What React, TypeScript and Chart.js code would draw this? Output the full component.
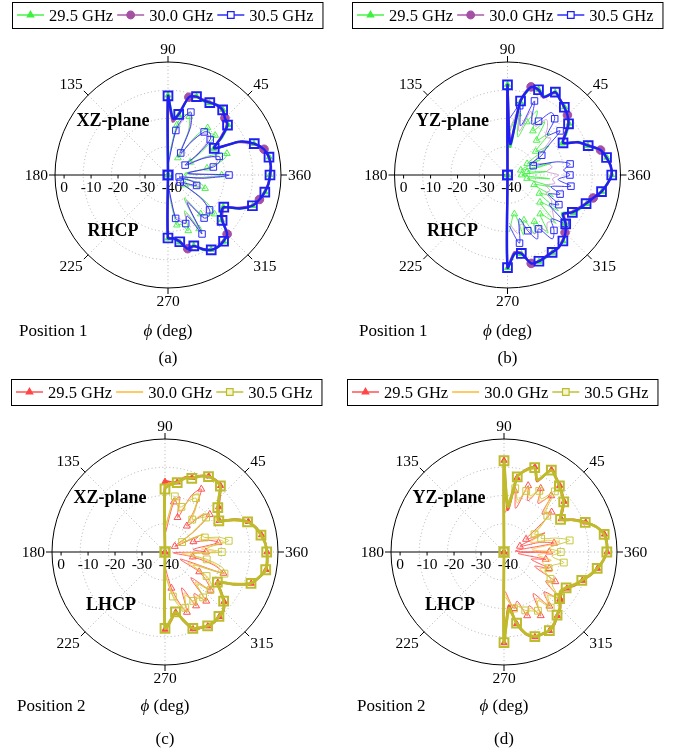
import React, { useEffect, useRef } from 'react';
import { Chart, registerables } from 'chart.js';

Chart.register(...registerables);

// ---------- axis / tick data ----------
const ANGLE_TICKS = [0, 45, 90, 135, 180, 225, 270, 315];
const ANGLE_TICK_LABELS = ['360', '45', '90', '135', '180', '225', '270', '315'];
const RADIAL_TICKS = [0, -10, -20, -30, -40];
const FREQ_LABELS = ['29.5 GHz', '30.0 GHz', '30.5 GHz'];

// angles (deg) of the envelope traces: centre -> 90 -> ... -> -90 -> centre
const MAIN_ANG = [90, 90, 85, 80, 75, 70, 65, 60, 55, 50, 45, 40, 35, 30, 25, 20, 15, 10, 5, 0,
  -5, -10, -15, -20, -25, -30, -35, -40, -45, -50, -55, -60, -65, -70, -75, -80, -85, -90, -90];
// angles (deg) of the inner (thin) traces
const THIN_ANG = [88, 80, 75, 70, 65, 60, 55, 50, 45, 40, 35, 30, 25, 20, 15, 10, 5, 0,
  -5, -10, -15, -20, -25, -30, -35, -40, -45, -50, -55, -60, -65, -70, -75, -80, -88];

// ---------- (a) XZ-plane RHCP, Position 1 ----------
const A_MAIN_295 = [-40, -11.8, -19.5, -18.4, -11.7, -10.4, -11, -10.6, -9.7, -9.8, -11.3, -12.3, -16.5, -21.3, -12.2, -7.6, -4.9, -3.6, -3.5, -4.0,
  -4.2, -5.1, -6.6, -8.1, -11.8, -17.4, -17.2, -15.2, -10.5, -9.3, -8.9, -9.5, -10.8, -13.4, -13.1, -15.8, -17.3, -17.6, -40];
const A_MAIN_300 = [-40, -12.2, -21, -18, -11.5, -10.6, -10.5, -10.2, -9.9, -10.1, -11.5, -12.8, -17.5, -21, -12.5, -7.8, -4.8, -3.8, -3.4, -3.8,
  -4.4, -5.3, -6.5, -8.4, -12.5, -17, -16.5, -14.8, -10.4, -9.6, -9.1, -9.3, -11.2, -13.1, -13.0, -16.2, -17.6, -17.7, -40];
const A_MAIN_305 = [-40, -12.0, -20, -18.2, -11.5, -10.5, -10.8, -10.4, -9.8, -9.9, -11.5, -12.5, -17, -21.1, -12, -7.5, -4.8, -3.7, -3.5, -3.9,
  -4.3, -5.2, -6.5, -8.2, -12, -17.2, -17, -15.0, -10.4, -9.4, -9.0, -9.4, -11, -13.3, -13.0, -16.0, -17.5, -17.7, -40];
const A_THIN_295 = [-34, -22, -18, -18, -23, -33, -24, -18.2, -19, -18.2, -25, -31, -24, -17.8, -20, -26, -34, -21,
  -29, -34, -28, -26, -31, -33, -24, -18.5, -20, -22, -30, -18, -26, -19, -22, -22, -34];
const A_THIN_300 = [-35, -25, -20, -17, -22, -32, -25, -21, -20, -22, -28, -32, -25, -22, -22, -25, -33, -20,
  -28, -35, -30, -28, -32, -34, -25, -22, -21, -21, -29, -17, -25, -22, -24, -25, -35];
const A_THIN_305 = [-36, -24, -19, -16.3, -21, -31, -26, -20.1, -19, -20.5, -27, -33, -26, -20.7, -21, -23.7, -33, -18.4,
  -27, -36, -31, -29.2, -33, -35, -26, -20.8, -19.5, -20.1, -28, -15.9, -24, -21.7, -23, -24.4, -36];

// ---------- (b) YZ-plane RHCP, Position 1 ----------
const B_MAIN_295 = [-40, -8.0, -30, -13.8, -8, -7.8, -9.2, -6.2, -7.6, -8.6, -10.2, -11.6, -14.6, -17.6, -12.2, -9.7, -6, -4.3, -3.3, -3.1,
  -4.6, -6.1, -8.5, -10.2, -11.7, -13.2, -16.4, -13.3, -10.8, -9.4, -8.7, -8.3, -7.8, -7.4, -7.7, -11.6, -11.8, -7.1, -40];
const B_MAIN_300 = [-40, -8.3, -28, -13, -7.7, -8.1, -9.8, -6.3, -7.4, -8.8, -10.0, -12, -15.5, -17, -12.8, -9.4, -5.9, -4.5, -3.4, -3.2,
  -4.4, -6.3, -8.6, -10.6, -12.3, -13.8, -15.5, -13, -11.2, -9.7, -8.5, -8.5, -8.2, -7.6, -7.6, -12, -12.5, -7.3, -40];
const B_MAIN_305 = [-40, -8.1, -29, -13.4, -7.8, -7.9, -9.5, -6.1, -7.5, -8.7, -10.0, -11.8, -15, -17.3, -12.5, -9.6, -5.9, -4.4, -3.3, -3.1,
  -4.5, -6.2, -8.6, -10.4, -12, -13.5, -16, -13.1, -11, -9.5, -8.6, -8.4, -8, -7.5, -7.6, -11.8, -12, -7.2, -40];
const B_THIN_295 = [-25, -18, -26, -20, -15, -22, -17, -24, -19, -27, -22, -32, -27, -35, -24, -33, -26, -35,
  -25, -33, -24, -30, -22, -27, -18, -25, -16, -22, -15, -21, -17, -23, -18, -26, -20];
const B_THIN_300 = [-24, -17, -24, -16, -19, -20, -16, -18, -21, -20, -25, -28, -30, -28, -25, -24, -26, -22,
  -24, -23, -26, -24, -25, -22, -21, -19, -17, -18, -16, -19, -17, -20, -22, -19, -23];
const B_THIN_305 = [-20, -15.1, -22, -12.1, -20, -18, -13, -14, -20, -15.7, -23, -26, -31, -30.3, -22, -17.5, -20, -17.9,
  -22, -17.2, -24, -20.2, -24, -19, -22, -13.4, -18, -14.4, -12.4, -18, -15, -19, -24, -15.5, -22];

// ---------- (c) XZ-plane LHCP, Position 2 ----------
const C_MAIN_295 = [-40, -15.1, -15.2, -14.9, -12.6, -12.0, -10.2, -9.0, -8.8, -9.4, -12.6, -15.2, -16.8, -17.8, -12.7, -8.6, -6.6, -5.3, -4.3, -3.9,
  -3.6, -3.7, -5.4, -7.5, -12.8, -18.4, -15.8, -12.7, -10.6, -10.1, -9.6, -9.7, -10.3, -11.0, -14.8, -18.3, -15.5, -12.6, -40];
const C_MAIN_300 = [-40, -16.5, -15.5, -15, -12.8, -12.1, -10.4, -9.1, -9.1, -9.7, -13.3, -15.8, -17.4, -18.3, -13.3, -8.8, -6.7, -5.4, -4.4, -3.9,
  -3.8, -3.9, -5.6, -7.8, -13.4, -18.8, -16.3, -13.1, -10.9, -10.2, -9.7, -9.9, -10.6, -11.4, -15.3, -18.2, -15.6, -12.8, -40];
const C_MAIN_305 = [-40, -17.7, -16, -15.1, -13, -12.3, -10.5, -9.2, -9.0, -9.5, -13, -15.6, -17, -18, -13, -8.9, -6.8, -5.5, -4.4, -4.0,
  -3.7, -3.8, -5.5, -7.6, -13, -18.6, -16, -12.9, -10.8, -10.3, -9.8, -9.8, -10.5, -11.2, -15, -18.5, -16, -13.0, -40];
const C_THIN_295 = [-33, -22, -19.8, -27, -18, -14.3, -21.9, -28, -22, -19.3, -28, -36, -27, -29.3, -24, -20.8, -30, -25.5,
  -37, -30, -22, -18, -34, -26, -22, -19, -27, -17.3, -22, -18, -26, -17.3, -22, -27, -34];
const C_THIN_300 = [-31, -21, -21, -25, -19, -16, -22, -26, -21, -20, -28, -34, -25, -27, -22, -19, -27, -22,
  -34, -27, -21, -19, -31, -24, -21, -20, -25, -18, -21, -19, -24, -18, -21, -25, -32];
const C_THIN_305 = [-30, -20, -23, -23, -20, -18, -21, -25, -23, -21, -29, -33, -26, -25, -20, -17.1, -25, -19.9,
  -31, -25, -19, -17.6, -29, -23, -20, -19, -24, -19, -20, -20, -23, -19, -20, -24, -31];

// ---------- (d) YZ-plane LHCP, Position 2 ----------
const D_MAIN_295 = [-40, -7.6, -25, -13.3, -9.8, -8.0, -12.4, -6.4, -7.8, -9.3, -10.8, -12.2, -14.7, -16.6, -12.8, -9.2, -5.9, -3.9, -3.4, -3.5,
  -4.7, -6.4, -8.3, -10.5, -12.2, -14.3, -15.2, -14.0, -11.8, -10.6, -8.8, -7.8, -7.9, -8.0, -9.8, -14.2, -21, -7.8, -40];
const D_MAIN_300 = [-40, -7.9, -23, -12.8, -10.2, -8.4, -11.6, -6.7, -8.1, -9.6, -11.2, -12.7, -15.3, -17.1, -13.3, -9.6, -6.1, -4.1, -3.6, -3.7,
  -4.9, -6.6, -8.7, -10.9, -12.8, -14.9, -15.8, -14.5, -12.2, -10.9, -9.2, -8.0, -8.1, -8.3, -10.3, -14.6, -19, -8.0, -40];
const D_MAIN_305 = [-40, -7.7, -24, -13, -10, -8.2, -12, -6.5, -8, -9.5, -11, -12.4, -15, -16.9, -13, -9.4, -6, -4.0, -3.5, -3.6,
  -4.8, -6.5, -8.5, -10.7, -12.5, -14.6, -15.5, -14.3, -12, -10.8, -9, -7.9, -8, -8.1, -10, -14.4, -20, -7.9, -40];
const D_THIN_295 = [-26, -18, -24, -15, -20, -14, -19, -14, -21, -18, -27, -31, -24, -34, -27, -22, -36, -24,
  -35, -25, -30, -23, -28, -19, -22, -14, -20, -15, -22, -14, -19, -16, -22, -19.7, -26];
const D_THIN_300 = [-25, -17.5, -22, -16, -19, -15, -18, -15, -20, -19, -25, -29, -26, -30, -24, -20, -30, -22,
  -28, -23, -26, -23, -26, -20, -21, -15, -19, -16, -20, -15, -18, -17, -21, -20, -25];
const D_THIN_305 = [-24, -17.1, -21, -17, -18, -15, -17, -12, -19, -20, -24, -27.5, -25, -26, -21, -16.4, -24, -19.9,
  -23, -18.5, -22, -23.2, -24, -21, -19, -15.1, -18, -14.3, -19, -16, -17, -18, -20, -19.7, -24];

// ---------- styles ----------
type Sty = {
  color: string; width: number; pointStyle: string | null; radius: number; pbw: number;
  fill: string; legendFill: string; rule: (a: number) => boolean;
};
const every10 = (a: number) => a % 10 === 0;
const odd15 = (a: number) => (a + 15) % 30 === 0;
const never = () => false;
const CLEAR = 'rgba(0,0,0,0)';

const RHCP_MAIN: Sty[] = [
  { color: '#3ef03e', width: 2.3, pointStyle: 'triangle', radius: 3.4, pbw: 1, fill: '#3ef03e', legendFill: '#3ef03e', rule: every10 },
  { color: '#a450a4', width: 2.3, pointStyle: 'circle', radius: 4.3, pbw: 1, fill: '#a450a4', legendFill: '#a450a4', rule: odd15 },
  { color: '#1f1ff5', width: 2.4, pointStyle: 'rect', radius: 6.2, pbw: 1.9, fill: CLEAR, legendFill: '#ffffff', rule: every10 },
];
const RHCP_THIN: Sty[] = [
  { color: '#3ef03e', width: 0.9, pointStyle: 'triangle', radius: 3.8, pbw: 0.9, fill: CLEAR, legendFill: CLEAR, rule: every10 },
  { color: '#cf98cf', width: 0.9, pointStyle: null, radius: 0, pbw: 0, fill: CLEAR, legendFill: CLEAR, rule: never },
  { color: '#2a2aff', width: 0.9, pointStyle: 'rect', radius: 4.6, pbw: 1, fill: CLEAR, legendFill: CLEAR, rule: every10 },
];
const LHCP_MAIN: Sty[] = [
  { color: '#ff4646', width: 2.1, pointStyle: 'triangle', radius: 3.6, pbw: 1, fill: '#ff4646', legendFill: '#ff4646', rule: every10 },
  { color: '#ffb220', width: 2.1, pointStyle: null, radius: 0, pbw: 0, fill: CLEAR, legendFill: CLEAR, rule: never },
  { color: '#bcbc2c', width: 2.8, pointStyle: 'rect', radius: 6.2, pbw: 2, fill: CLEAR, legendFill: '#f4f4d0', rule: every10 },
];
const LHCP_THIN: Sty[] = [
  { color: '#ff5050', width: 0.9, pointStyle: 'triangle', radius: 4, pbw: 1, fill: CLEAR, legendFill: CLEAR, rule: every10 },
  { color: '#ffc24a', width: 0.9, pointStyle: null, radius: 0, pbw: 0, fill: CLEAR, legendFill: CLEAR, rule: never },
  { color: '#c8c83c', width: 0.9, pointStyle: 'rect', radius: 4.8, pbw: 1, fill: CLEAR, legendFill: CLEAR, rule: every10 },
];

const R_PX = 113;
const CW = 340;
const CH = 378;

type PanelDef = {
  key: string; ox: number; oy: number; cx: number; cy: number; lx: number; lhcp: boolean;
  main: number[][]; thin: number[][];
  plane: string; pol: string; pos: string; cap: string;
  planeXY: [number, number]; polXY: [number, number]; posX: number; textY: number; capY: number;
};

const PANELS: PanelDef[] = [
  { key: 'a', ox: 0, oy: 0, cx: 168, cy: 175, lx: 12, lhcp: false,
    main: [A_MAIN_295, A_MAIN_300, A_MAIN_305], thin: [A_THIN_295, A_THIN_300, A_THIN_305],
    plane: 'XZ-plane', pol: 'RHCP', pos: 'Position 1', cap: '(a)',
    planeXY: [113, 120], polXY: [113, 230], posX: 19, textY: 330, capY: 357 },
  { key: 'b', ox: 340, oy: 0, cx: 167.5, cy: 175, lx: 12, lhcp: false,
    main: [B_MAIN_295, B_MAIN_300, B_MAIN_305], thin: [B_THIN_295, B_THIN_300, B_THIN_305],
    plane: 'YZ-plane', pol: 'RHCP', pos: 'Position 1', cap: '(b)',
    planeXY: [452.5, 120], polXY: [452.5, 230], posX: 359, textY: 330, capY: 357 },
  { key: 'c', ox: 0, oy: 377, cx: 165, cy: 175, lx: 11, lhcp: true,
    main: [C_MAIN_295, C_MAIN_300, C_MAIN_305], thin: [C_THIN_295, C_THIN_300, C_THIN_305],
    plane: 'XZ-plane', pol: 'LHCP', pos: 'Position 2', cap: '(c)',
    planeXY: [110, 497], polXY: [111, 604], posX: 17, textY: 705, capY: 738 },
  { key: 'd', ox: 340, oy: 377, cx: 164, cy: 175, lx: 7, lhcp: true,
    main: [D_MAIN_295, D_MAIN_300, D_MAIN_305], thin: [D_THIN_295, D_THIN_300, D_THIN_305],
    plane: 'YZ-plane', pol: 'LHCP', pos: 'Position 2', cap: '(d)',
    planeXY: [449, 497], polXY: [450, 604], posX: 357, textY: 705, capY: 738 },
];

function toXY(ang: number[], val: number[]) {
  return ang.map((a, i) => {
    const r = Math.max(0, val[i] + 40);
    const t = (a * Math.PI) / 180;
    return { x: r * Math.cos(t), y: r * Math.sin(t) };
  });
}

function makeDataset(label: string, ang: number[], val: number[], s: Sty, order: number, tension: number) {
  return {
    label,
    data: toXY(ang, val),
    showLine: true,
    borderColor: s.color,
    backgroundColor: s.color,
    borderWidth: s.width,
    pointStyle: s.pointStyle || 'circle',
    pointRadius: ang.map((a) => (s.pointStyle && s.rule(a) ? s.radius : 0)),
    pointHoverRadius: 0,
    pointBorderColor: s.color,
    pointBackgroundColor: s.fill,
    pointBorderWidth: s.pbw,
    tension,
    order,
    fill: false,
  };
}

function drawMarker(ctx: CanvasRenderingContext2D, s: Sty, x: number, y: number) {
  if (!s.pointStyle) return;
  ctx.save();
  ctx.strokeStyle = s.color;
  ctx.fillStyle = s.legendFill;
  ctx.lineWidth = 1.2;
  ctx.beginPath();
  if (s.pointStyle === 'triangle') {
    const r = 3.8;
    ctx.moveTo(x, y - r);
    ctx.lineTo(x + r * Math.sin((2 * Math.PI) / 3), y - r * Math.cos((2 * Math.PI) / 3));
    ctx.lineTo(x + r * Math.sin((4 * Math.PI) / 3), y - r * Math.cos((4 * Math.PI) / 3));
    ctx.closePath();
  } else if (s.pointStyle === 'circle') {
    ctx.arc(x, y, 3.8, 0, Math.PI * 2);
  } else {
    const h = 3.3;
    ctx.rect(x - h, y - h, 2 * h, 2 * h);
  }
  ctx.fill();
  ctx.stroke();
  ctx.restore();
}

function makePlugin(p: PanelDef, legendStyles: Sty[]) {
  return {
    id: 'polarDecor',
    beforeDatasetsDraw(chart: any) {
      const ctx: CanvasRenderingContext2D = chart.ctx;
      const xs = chart.scales.x;
      const ys = chart.scales.y;
      const cx = xs.getPixelForValue(0);
      const cy = ys.getPixelForValue(0);
      const R = xs.getPixelForValue(40) - cx;
      ctx.save();
      // dotted grid
      ctx.lineWidth = 0.8;
      ctx.strokeStyle = '#a0a0a0';
      ctx.setLineDash([1, 2.6]);
      RADIAL_TICKS.forEach((v) => {
        const r = ((v + 40) / 40) * R;
        if (r <= 0 || r >= R) return;
        ctx.beginPath();
        ctx.arc(cx, cy, r, 0, Math.PI * 2);
        ctx.stroke();
      });
      ANGLE_TICKS.forEach((a) => {
        if (a === 180) return;
        const t = (a * Math.PI) / 180;
        ctx.beginPath();
        ctx.moveTo(cx, cy);
        ctx.lineTo(cx + R * Math.cos(t), cy - R * Math.sin(t));
        ctx.stroke();
      });
      ctx.setLineDash([]);
      // outer circle, radial axis, outward ticks
      ctx.strokeStyle = '#000';
      ctx.lineWidth = 1;
      ctx.beginPath();
      ctx.arc(cx, cy, R, 0, Math.PI * 2);
      ctx.stroke();
      ctx.beginPath();
      ctx.moveTo(cx, cy);
      ctx.lineTo(cx - R, cy);
      ctx.stroke();
      ANGLE_TICKS.forEach((a) => {
        const t = (a * Math.PI) / 180;
        ctx.beginPath();
        ctx.moveTo(cx + R * Math.cos(t), cy - R * Math.sin(t));
        ctx.lineTo(cx + (R + 6) * Math.cos(t), cy - (R + 6) * Math.sin(t));
        ctx.stroke();
      });
      // angle labels
      ctx.fillStyle = '#000';
      ctx.font = '15.5px "Liberation Serif", serif';
      ctx.textAlign = 'center';
      ctx.textBaseline = 'alphabetic';
      ANGLE_TICKS.forEach((a, i) => {
        const t = (a * Math.PI) / 180;
        const c = Math.cos(t);
        const s = Math.sin(t);
        const text = ANGLE_TICK_LABELS[i];
        const w = ctx.measureText(text).width;
        const sx = Math.abs(c) < 0.01 ? 0 : Math.sign(c);
        const sy = Math.abs(s) < 0.01 ? 0 : Math.sign(s);
        const px = cx + (R + 6) * c + sx * (w / 2 + 1);
        const py = cy - (R + 6) * s - sy * 7;
        ctx.fillText(text, px, py + 5.2);
      });
      // radial tick labels along the 180 direction
      RADIAL_TICKS.forEach((v) => {
        const x = cx + 4 - ((v + 40) / 40) * R * 0.955;
        ctx.beginPath();
        ctx.moveTo(x, cy);
        ctx.lineTo(x, cy + 3.5);
        ctx.stroke();
        ctx.fillText(String(v), x, cy + 17);
      });
      ctx.restore();
    },
    afterDraw(chart: any) {
      const ctx: CanvasRenderingContext2D = chart.ctx;
      ctx.save();
      ctx.font = '16.5px "Liberation Serif", serif';
      ctx.textAlign = 'left';
      ctx.textBaseline = 'alphabetic';
      const y = 15;
      let x = p.lx + 5;
      legendStyles.forEach((s, i) => {
        ctx.strokeStyle = s.color;
        ctx.lineWidth = 1.4;
        ctx.beginPath();
        ctx.moveTo(x, y);
        ctx.lineTo(x + 27, y);
        ctx.stroke();
        drawMarker(ctx, s, x + 13.5, y);
        x += 32;
        ctx.fillStyle = '#000';
        ctx.fillText(FREQ_LABELS[i], x, y + 5.6);
        x += ctx.measureText(FREQ_LABELS[i]).width + 4;
      });
      ctx.strokeStyle = '#000';
      ctx.lineWidth = 1;
      ctx.strokeRect(p.lx + 0.5, 2.5, x + 5 - p.lx, 26);
      ctx.restore();
    },
  };
}

function Label({ x, y, children, bold, left, size }: any) {
  return (
    <div
      style={{
        position: 'absolute',
        left: x,
        top: y,
        transform: left ? 'translate(0,-50%)' : 'translate(-50%,-50%)',
        whiteSpace: 'nowrap',
        lineHeight: 1,
        fontSize: size,
        fontWeight: bold ? 'bold' : 'normal',
        fontFamily: '"Liberation Serif", serif',
        color: '#000',
      }}
    >
      {children}
    </div>
  );
}

function Panel({ p }: { p: PanelDef }) {
  const ref = useRef<HTMLCanvasElement | null>(null);
  useEffect(() => {
    const canvas = ref.current;
    if (!canvas) return;
    const mainStyles = p.lhcp ? LHCP_MAIN : RHCP_MAIN;
    const thinStyles = p.lhcp ? LHCP_THIN : RHCP_THIN;
    const datasets: any[] = [];
    thinStyles.forEach((s, i) => {
      datasets.push(makeDataset(FREQ_LABELS[i] + ' cut', THIN_ANG, p.thin[i], s, 6 - i, 0.3));
    });
    mainStyles.forEach((s, i) => {
      datasets.push(makeDataset(FREQ_LABELS[i], MAIN_ANG, p.main[i], s, 3 - i, 0.25));
    });
    const chart = new Chart(canvas, {
      type: 'scatter',
      data: { datasets },
      options: {
        responsive: false,
        maintainAspectRatio: false,
        animation: false,
        events: [],
        layout: {
          padding: {
            left: p.cx - R_PX,
            right: CW - p.cx - R_PX,
            top: p.cy - R_PX,
            bottom: CH - p.cy - R_PX,
          },
        },
        scales: {
          x: { type: 'linear', min: -40, max: 40, display: false },
          y: { type: 'linear', min: -40, max: 40, display: false },
        },
        plugins: { legend: { display: false }, tooltip: { enabled: false } },
      } as any,
      plugins: [makePlugin(p, mainStyles) as any],
    });
    return () => chart.destroy();
  }, [p]);

  return (
    <>
      <canvas
        ref={ref}
        width={CW}
        height={CH}
        style={{ position: 'absolute', left: p.ox, top: p.oy, width: CW, height: CH }}
      />
      <Label x={p.planeXY[0]} y={p.planeXY[1]} bold size={18}>{p.plane}</Label>
      <Label x={p.polXY[0]} y={p.polXY[1]} bold size={18}>{p.pol}</Label>
      <Label x={p.posX} y={p.textY} left size={17}>{p.pos}</Label>
      <Label x={p.ox + p.cx} y={p.textY} size={17}><i>ϕ</i> (deg)</Label>
      <Label x={p.ox + p.cx} y={p.capY} size={17}>{p.cap}</Label>
    </>
  );
}

export default function App() {
  return (
    <div style={{ position: 'absolute', left: 0, top: 0, width: 680, height: 755, background: '#fff', overflow: 'hidden' }}>
      {PANELS.map((p) => (
        <Panel key={p.key} p={p} />
      ))}
    </div>
  );
}
